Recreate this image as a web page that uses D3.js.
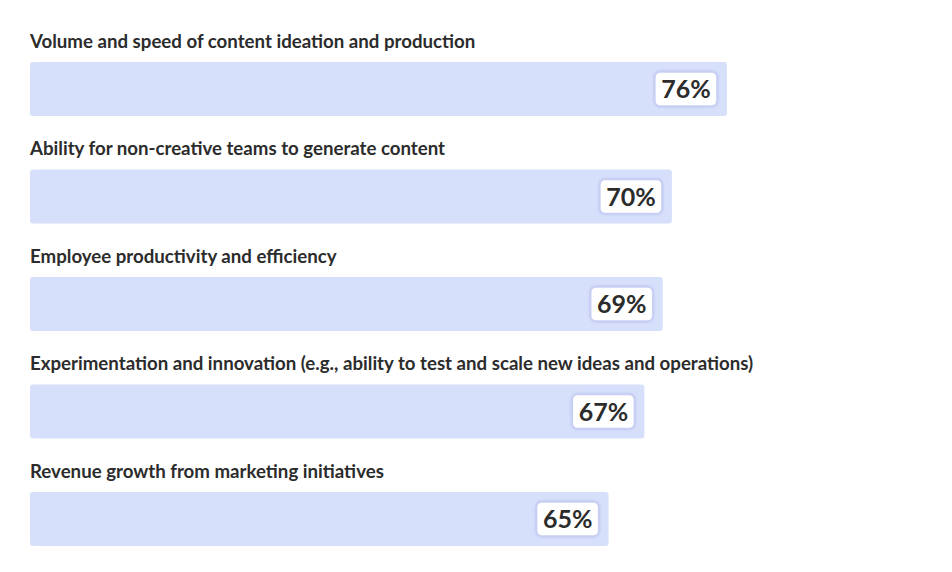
<!DOCTYPE html>
<html>
<head>
<meta charset="utf-8">
<script src="https://cdn.jsdelivr.net/npm/d3@7"></script>
<style>
  body { margin: 0; background: #fff; }
  text { font-family: Lato, "Open Sans", sans-serif; fill: #2c2c2c; }
</style>
</head>
<body>
<div id="chart"></div>
<script>
// data
const categories = [
    "Volume and speed of content ideation and production",
    "Ability for non-creative teams to generate content",
    "Employee productivity and efficiency",
    "Experimentation and innovation (e.g., ability to test and scale new ideas and operations)",
    "Revenue growth from marketing initiatives"
];
const barValues = [76, 70, 69, 67, 63.1]; // bar lengths as drawn
const valueLabels = ["76%", "70%", "69%", "67%", "65%"];

const W = 952, H = 572;
const svg = d3.select("#chart").append("svg")
    .attr("width", W)
    .attr("height", H);

const defs = svg.append("defs");
const f = defs.append("filter").attr("id", "sh").attr("x", "-20%").attr("y", "-30%").attr("width", "140%").attr("height", "160%");
f.append("feDropShadow").attr("dx", 0).attr("dy", 0).attr("stdDeviation", 1.5).attr("flood-color", "#8f97d9").attr("flood-opacity", 0.55);

const x = d3.scaleLinear().domain([0, 100]).range([30, 947]);
const y = d3.scaleBand().domain(categories).range([20, 557.5]).padding(0);

const rows = svg.selectAll(".row")
    .data(categories.map((c, i) => ({ name: c, v: barValues[i], label: valueLabels[i] })))
    .enter()
    .append("g")
    .attr("class", "row")
    .attr("transform", (d) => `translate(0,${y(d.name)})`);

const titles = rows.append("text")
    .attr("x", x(0))
    .attr("y", 21)
    .attr("dy", "0.35em")
    .style("font-weight", 700)
    .style("font-size", "17px")
    .text((d) => d.name);

// fit the longest title to its width in the picture
const longest = d3.max(titles.nodes(), (n) => n.getComputedTextLength());
const fs = 17 * 724 / longest;
titles.style("font-size", fs + "px");

rows.append("rect")
    .attr("x", x(0))
    .attr("y", 42)
    .attr("width", (d) => x(d.v) - x(0))
    .attr("height", 54)
    .attr("rx", 3)
    .attr("fill", "#d7e0fb");

const boxW = 62, boxH = 34;
rows.append("rect")
    .attr("x", (d) => x(d.v) - 10 - boxW)
    .attr("y", 42 + (54 - boxH) / 2)
    .attr("width", boxW)
    .attr("height", boxH)
    .attr("rx", 5)
    .attr("fill", "#fff")
    .attr("stroke", "#c9cff3")
    .attr("stroke-width", 1.5)
    .attr("filter", "url(#sh)");

rows.append("text")
    .attr("x", (d) => x(d.v) - 10 - boxW / 2)
    .attr("y", 69)
    .attr("dy", "0.36em")
    .attr("text-anchor", "middle")
    .style("font-weight", 700)
    .style("font-size", "25px")
    .text((d) => d.label);
</script>
</body>
</html>
